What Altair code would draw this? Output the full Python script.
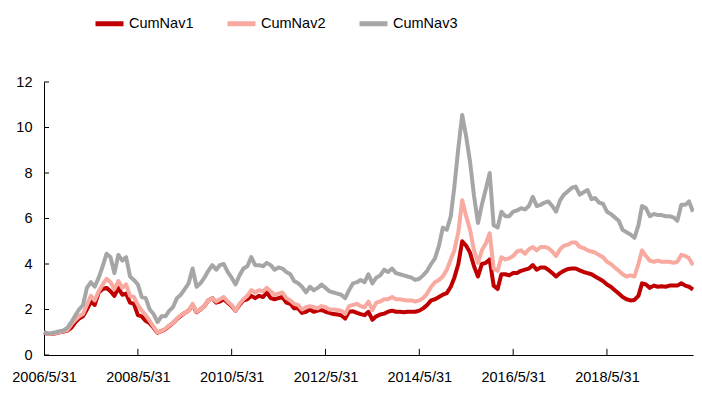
import altair as alt
import pandas as pd

series_names = ["CumNav1", "CumNav2", "CumNav3"]
colors = ["#C00000", "#F8A9A0", "#A6A6A6"]
x_tick_dates = ["2006-05-31", "2008-05-31", "2010-05-31", "2012-05-31",
                "2014-05-31", "2016-05-31", "2018-05-31"]
y_ticks = [0, 2, 4, 6, 8, 10, 12]

cumnav1 = [
    1.00, 0.92, 0.92, 0.95, 1.00, 1.03, 1.07, 1.20, 1.45, 1.60,
    1.70, 2.00, 2.35, 2.20, 2.75, 2.90, 2.95, 2.80, 2.60, 2.95,
    2.65, 2.70, 2.30, 2.25, 1.75, 1.70, 1.50, 1.40, 1.20, 0.98,
    1.05, 1.13, 1.28, 1.40, 1.58, 1.72, 1.85, 1.95, 2.20, 1.88,
    2.00, 2.15, 2.40, 2.50, 2.30, 2.35, 2.45, 2.30, 2.15, 1.95,
    2.20, 2.40, 2.45, 2.60, 2.50, 2.60, 2.55, 2.75, 2.50, 2.45,
    2.50, 2.55, 2.30, 2.25, 2.05, 2.05, 1.85, 1.90, 2.00, 1.90,
    1.95, 1.98, 1.90, 1.85, 1.80, 1.78, 1.75, 1.60, 1.90, 1.92,
    1.85, 1.80, 1.75, 1.90, 1.55, 1.70, 1.78, 1.82, 1.90, 1.95,
    1.90, 1.90, 1.88, 1.90, 1.90, 1.90, 1.95, 2.05, 2.20, 2.40,
    2.45, 2.55, 2.65, 2.72, 3.00, 3.40, 4.00, 5.00, 4.80, 4.50,
    3.90, 3.45, 4.00, 4.05, 4.20, 3.05, 2.90, 3.55, 3.55, 3.50,
    3.60, 3.60, 3.70, 3.75, 3.80, 3.95, 3.75, 3.85, 3.85, 3.75,
    3.60, 3.45, 3.60, 3.70, 3.78, 3.80, 3.80, 3.72, 3.65, 3.60,
    3.55, 3.45, 3.35, 3.25, 3.10, 3.00, 2.85, 2.70, 2.55, 2.45,
    2.40, 2.42, 2.60, 3.15, 3.10, 2.95, 3.05, 3.00, 3.02, 3.00,
    3.05, 3.05, 3.05, 3.15, 3.05, 3.00, 2.88,
]
cumnav2 = [
    1.00, 0.92, 0.93, 0.97, 1.00, 1.05, 1.10, 1.35, 1.55, 1.70,
    1.80, 2.20, 2.60, 2.40, 2.80, 3.10, 3.35, 3.20, 2.90, 3.25,
    2.95, 3.10, 2.60, 2.55, 2.20, 1.95, 1.75, 1.50, 1.25, 1.00,
    1.05, 1.15, 1.30, 1.40, 1.60, 1.75, 1.85, 1.95, 2.25, 1.90,
    2.00, 2.15, 2.40, 2.50, 2.35, 2.45, 2.55, 2.35, 2.20, 1.95,
    2.25, 2.45, 2.60, 2.85, 2.75, 2.85, 2.80, 2.95, 2.80, 2.65,
    2.70, 2.75, 2.50, 2.40, 2.25, 2.20, 2.00, 2.10, 2.15, 2.10,
    2.05, 2.15, 2.10, 2.00, 2.00, 1.98, 1.95, 1.80, 2.15, 2.20,
    2.25, 2.15, 2.10, 2.35, 1.98, 2.30, 2.35, 2.45, 2.45, 2.55,
    2.45, 2.45, 2.42, 2.40, 2.40, 2.35, 2.40, 2.50, 2.70, 3.00,
    3.20, 3.30, 3.45, 3.75, 4.20, 4.60, 5.40, 6.80, 6.10, 5.50,
    4.60, 4.05, 4.60, 4.90, 5.35, 3.80, 3.70, 4.30, 4.20, 4.25,
    4.35, 4.55, 4.60, 4.45, 4.65, 4.75, 4.60, 4.75, 4.75, 4.70,
    4.55, 4.35, 4.65, 4.80, 4.85, 4.95, 4.95, 4.75, 4.70, 4.60,
    4.55, 4.50, 4.40, 4.30, 4.10, 4.00, 3.85, 3.70, 3.55, 3.45,
    3.50, 3.45, 4.00, 4.60, 4.35, 4.15, 4.10, 4.15, 4.10, 4.10,
    4.10, 4.05, 4.10, 4.40, 4.35, 4.25, 3.95,
]
cumnav3 = [
    1.00, 0.95, 0.97, 1.00, 1.05, 1.08, 1.20, 1.45, 1.75, 2.00,
    2.20, 2.95, 3.20, 3.00, 3.40, 3.90, 4.45, 4.30, 3.60, 4.40,
    4.15, 4.30, 3.45, 3.30, 3.10, 2.55, 2.50, 2.00, 1.80, 1.45,
    1.70, 1.70, 1.95, 2.10, 2.50, 2.65, 2.90, 3.15, 3.80, 3.00,
    3.15, 3.40, 3.70, 3.95, 3.75, 3.95, 4.00, 3.65, 3.40, 3.10,
    3.50, 3.80, 3.90, 4.30, 3.95, 3.95, 3.90, 4.05, 3.95, 3.75,
    3.85, 3.80, 3.65, 3.55, 3.25, 3.15, 3.00, 2.75, 3.00, 2.85,
    2.95, 3.10, 2.95, 2.80, 2.75, 2.70, 2.65, 2.50, 2.85, 3.15,
    3.20, 3.30, 3.20, 3.55, 3.15, 3.40, 3.50, 3.75, 3.65, 3.80,
    3.60, 3.55, 3.50, 3.45, 3.40, 3.30, 3.35, 3.50, 3.70, 4.00,
    4.25, 4.80, 5.60, 5.50, 6.10, 7.40, 9.10, 10.55, 9.60, 8.50,
    7.00, 5.80, 6.60, 7.30, 8.00, 5.70, 5.60, 6.30, 6.10, 6.10,
    6.30, 6.35, 6.45, 6.40, 6.55, 6.95, 6.55, 6.60, 6.70, 6.75,
    6.55, 6.30, 6.80, 7.05, 7.20, 7.35, 7.40, 7.05, 7.15, 7.25,
    6.85, 6.90, 6.70, 6.65, 6.30, 6.20, 6.05, 5.90, 5.50, 5.40,
    5.30, 5.15, 5.70, 6.55, 6.45, 6.10, 6.20, 6.15, 6.15, 6.10,
    6.10, 6.05, 5.90, 6.60, 6.60, 6.75, 6.30,
]

dates = (pd.period_range("2006-05", periods=len(cumnav1), freq="M")
         .to_timestamp(how="end").strftime("%Y-%m-%d"))

frames = []
for name, vals in zip(series_names, [cumnav1, cumnav2, cumnav3]):
    frames.append(pd.DataFrame({"date": list(dates), "value": vals, "series": name}))
df = pd.concat(frames, ignore_index=True)

FONT = "Liberation Sans"
FS = 14.5
x_start = alt.DateTime(year=2006, month=5, date=31, utc=True)
x_end = alt.DateTime(year=2020, month=3, date=31, utc=True)
x_vals = [alt.DateTime(year=int(d[:4]), month=5, date=31, utc=True) for d in x_tick_dates]

xscale = alt.Scale(type="utc", domain=[x_start, x_end], nice=False)
yscale = alt.Scale(domain=[0, 12], nice=False)

lines = alt.Chart(df).mark_line(strokeWidth=4, strokeJoin="round").encode(
    x=alt.X("date:T", scale=xscale, title=None,
            axis=alt.Axis(values=x_vals, labelExpr="utcFormat(datum.value, '%Y/%-m/%d')",
                          tickSize=0, labelPadding=15, grid=False, domainColor="#000000",
                          labelFont=FONT, labelFontSize=FS, labelColor="#000000",
                          labelFlush=False, labelOverlap=False)),
    y=alt.Y("value:Q", scale=yscale, title=None,
            axis=alt.Axis(values=y_ticks, tickSize=0, labelPadding=12, grid=False,
                          domainColor="#000000", labelFont=FONT, labelFontSize=FS,
                          labelColor="#000000")),
    color=alt.Color("series:N", scale=alt.Scale(domain=series_names, range=colors),
                    legend=alt.Legend(title=None, orient="none", direction="horizontal",
                                      legendX=49, legendY=-75, symbolType="stroke",
                                      symbolStrokeWidth=5, symbolSize=784,
                                      labelFont=FONT, labelFontSize=FS,
                                      labelColor="#000000", labelOffset=3,
                                      columnPadding=23, padding=0)),
    order=alt.Order("date:T"),
)

xt = pd.DataFrame({"date": x_tick_dates[1:]})
xticks = alt.Chart(xt).mark_rule(color="#000000", strokeWidth=1).encode(
    x=alt.X("date:T", scale=xscale),
    y=alt.datum(0),
    y2=alt.datum(0.27),
)

yt = pd.DataFrame({"v": y_ticks})
yticks = alt.Chart(yt).mark_rule(color="#000000", strokeWidth=1).encode(
    y=alt.Y("v:Q", scale=yscale),
    x=alt.value(0),
    x2=alt.value(5),
)

chart = alt.layer(lines, xticks, yticks).properties(
    width=649, height=273,
    autosize=alt.AutoSizeParams(type="none"),
    padding={"left": 36, "top": 74, "right": 1, "bottom": 30},
).configure_view(stroke=None)

chart.save("out.html", embed_options={"renderer": "svg", "actions": False})
